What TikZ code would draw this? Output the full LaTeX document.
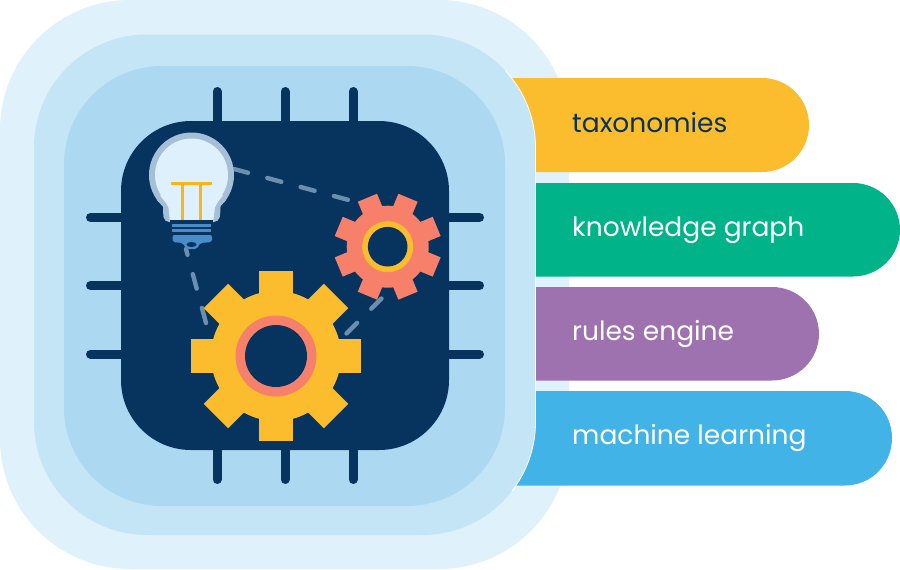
\documentclass[tikz,border=0pt]{standalone}
\usepackage{fontspec}
\setmainfont{Poppins}
\definecolor{outerc}{HTML}{DFF1FA}
\definecolor{midc}{HTML}{C3E5F6}
\definecolor{innerc}{HTML}{ACD9F1}
\definecolor{darkc}{HTML}{06345F}
\definecolor{yellowc}{HTML}{FBBD2D}
\definecolor{greenc}{HTML}{00B388}
\definecolor{purplec}{HTML}{9E72AE}
\definecolor{bluec}{HTML}{41B3E6}
\definecolor{salmonc}{HTML}{F6806A}
\definecolor{dashc}{HTML}{6C8FB0}
\definecolor{ringc}{HTML}{A5BFD6}
\definecolor{glassc}{HTML}{DDF0FB}
\definecolor{filc}{HTML}{FDB515}
\definecolor{basec}{HTML}{4A8CC9}
\tikzset{
  pilllabel/.style={anchor=base west,inner sep=0pt,font=\fontsize{26.5}{30}\selectfont},
  linkline/.style={draw=dashc,line width=4.4pt,line cap=round,dash pattern=on 14.5pt off 20pt},
  tick/.style={draw=darkc,line width=9pt,line cap=round},
}
\newcommand{\mygear}[9]{%
 \begin{scope}[shift={(#1,#2)}]
  \fill[#7] (0,0) circle[radius=#5];
  \foreach \a in {0,45,...,315}{
    \fill[#7,rotate=\a+#6] (-#4,0) rectangle (#4,-#3);
  }
  \fill[#8] (0,0) circle[radius=#9];
  \fill[darkc] (0,0) circle[radius=\gearhole];
 \end{scope}}
\begin{document}
\begin{tikzpicture}[x=1pt,y=-1pt]
\useasboundingbox (0,0) rectangle (900,570);
\fill[outerc,rounded corners=130pt] (0,0) rectangle (569,569);
\def\pill#1#2#3#4{\fill[#1] (500,#2) -- (#4-47,#2) .. controls (#4-21,#2) and (#4,#2+21) .. (#4,#2+47) .. controls (#4,#3-21) and (#4-21,#3) .. (#4-47,#3) -- (500,#3) -- cycle;}
\pill{yellowc}{78}{172}{809}
\pill{greenc}{183}{276.5}{900}
\pill{purplec}{287}{380.5}{819}
\pill{bluec}{391}{485.5}{892}
\fill[midc,rounded corners=113pt] (34,34.5) rectangle (535.5,535);
\begin{scope}
\clip (505,70) rectangle (545,490);
\draw[white,line width=0.8pt,rounded corners=113pt] (34,34.5) rectangle (535.5,535);
\end{scope}
\fill[innerc,rounded corners=98pt] (64,66) rectangle (505,506);
\foreach \p in {217,285,353}{
  \draw[tick] (\p,91.5) -- (\p,130);
  \draw[tick] (\p,440) -- (\p,479.5);
}
\foreach \p in {217.5,285.5,354}{
  \draw[tick] (90.5,\p) -- (130,\p);
  \draw[tick] (440,\p) -- (479.5,\p);
}
\fill[darkc,rounded corners=70pt] (121,121) rectangle (449,450);
\coordinate (bulbR) at (234,169);
\coordinate (smallL) at (350.5,200.5);
\coordinate (bulbB) at (186,249);
\coordinate (bigT) at (206,323);
\coordinate (bigR) at (346.5,333.5);
\coordinate (smallB) at (381.5,298.5);
\draw[linkline] (bulbR) -- (smallL);
\draw[linkline,dash pattern=on 6pt off 20pt on 15pt off 20pt on 16pt off 20pt] (bulbB) -- (bigT);
\draw[linkline,dash pattern=on 15pt off 20pt] (bigR) -- (smallB);
\fill[ringc] (191.5,175) circle[radius=42.5];
\fill[ringc,rounded corners=5pt] (155,195) .. controls (158,203) and (163,203) .. (163,212) -- (164,222) -- (219,222) -- (220.5,212) .. controls (220.5,203) and (225,203) .. (228,195) -- cycle;
\fill[glassc] (191.5,175) circle[radius=36.5];
\fill[glassc] (160,195) .. controls (165,203) and (169,204) .. (169,212) -- (170,222) -- (213,222) -- (214.5,212) .. controls (214.5,204) and (218,203) .. (223,195) -- cycle;
\draw[filc,line width=2.6pt] (171,183.3) -- (212,183.3);
\draw[filc,line width=2.6pt] (182.7,183.3) -- (182.7,220) (200.7,183.3) -- (200.7,220);
\fill[darkc] (170,219.5) rectangle (212.5,224);
\fill[basec] (172,223.8) rectangle (211,226.5);
\fill[basec] (172,229) rectangle (211,232);
\fill[basec,rounded corners=2pt] (172.5,235) -- (212,235) -- (212,242) -- (200,243) -- (197,249) -- (186,249) -- (183,243) -- (172.5,242) -- cycle;
\fill[darkc] (191.5,244.5) ellipse[x radius=5,y radius=2.5];
\def\gearhole{31}
\mygear{276}{356}{85}{17.3}{65}{0}{yellowc}{salmonc}{40.5}
\def\gearhole{19.8}
\mygear{387.7}{246.7}{53}{10.4}{41}{22.5}{salmonc}{yellowc}{25.5}
\node[pilllabel,text=darkc] (l1) at (572,132) {taxonomies};
\node[pilllabel,text=white] (l2) at (572,236) {knowledge graph};
\node[pilllabel,text=white] (l3) at (572,340) {rules engine};
\node[pilllabel,text=white] (l4) at (572,444) {machine learning};
\end{tikzpicture}
\end{document}
